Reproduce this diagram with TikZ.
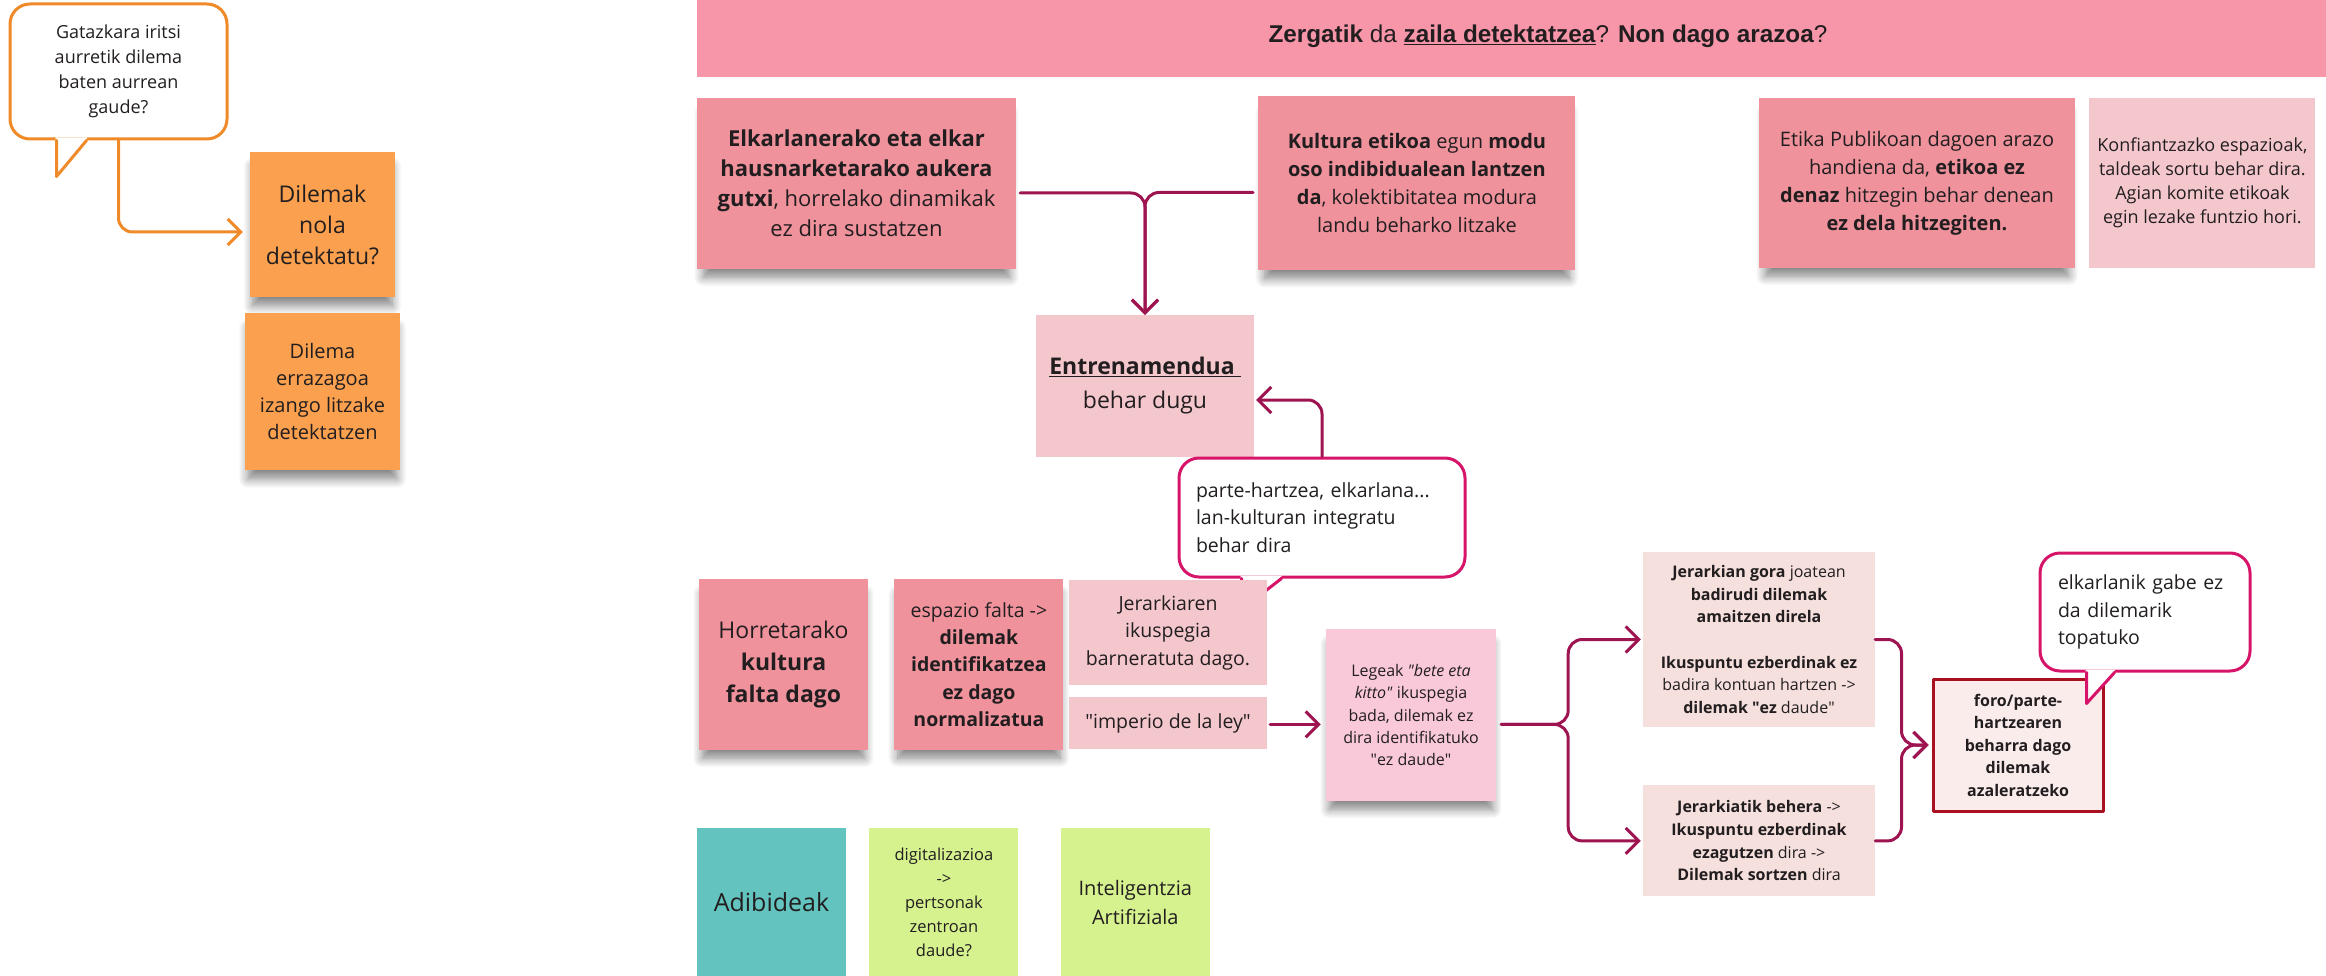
\documentclass[tikz,border=0pt]{standalone}
\usepackage{fontspec}
\setmainfont{Open Sans}
\newfontfamily\arialfont{Liberation Sans}
\usepackage{xcolor}
\usepackage{tikz}
\usetikzlibrary{arrows.meta, positioning, calc, shadows.blur}

\definecolor{ink}{RGB}{34,30,32}
\definecolor{titlepink}{RGB}{247,150,168}
\definecolor{notepink}{RGB}{239,146,156}
\definecolor{palepink}{RGB}{244,199,204}
\definecolor{lawpink}{RGB}{249,201,218}
\definecolor{rosewhite}{RGB}{245,224,221}
\definecolor{forofill}{RGB}{251,236,236}
\definecolor{foroline}{RGB}{170,17,32}
\definecolor{noteorange}{RGB}{250,160,78}
\definecolor{lineorange}{RGB}{240,138,40}
\definecolor{aditeal}{RGB}{99,196,191}
\definecolor{digilime}{RGB}{214,242,142}
\definecolor{wine}{RGB}{158,20,80}
\definecolor{callred}{RGB}{214,20,105}

\newcommand{\setsz}[2]{\fontsize{#1}{#2}\selectfont}
\newcommand{\q}{\textquotedbl}
% tail of a speech bubble: node, colour, left and right foot (from south west), depth
\newcommand{\calltail}[5]{%
  \fill[white] ($(#1.south west)+(#3-1,-3)$) -- ($(#1.south west)+(#3,#5)$) -- ($(#1.south west)+(#4+1,-3)$) -- cycle;
  \draw[#2, line width=3pt] ($(#1.south west)+(#3,0)$) -- ++(0,#5) -- ($(#1.south west)+(#4,0)$);}

\tikzset{
    board/.style={x=1pt, y=-1pt, >={Straight Barb[length=13pt,width=26pt]}, line cap=round, line join=round, text=ink},
    note/.style={rectangle, inner sep=0pt, align=center, fill=notepink},
    sticky/.style={blur shadow={shadow xshift=0pt, shadow yshift=-12pt, shadow scale=0.96, shadow blur radius=10pt, shadow blur steps=10, shadow opacity=50}},
    bubble/.style={draw=callred, line width=3pt, fill=white, rounded corners=20pt, inner sep=0pt, align=center},
    conn/.style={draw=wine, line width=3pt, ->},
    oconn/.style={draw=lineorange, line width=3pt, ->},
}

\begin{document}
\begin{tikzpicture}[board]
\useasboundingbox (0,0) rectangle (2326,976);

% left column
\node[bubble, draw=lineorange, minimum width=217pt, minimum height=135pt, font=\setsz{18}{25}] (ask) at (118.5,71.5) {Gatazkara iritsi\\aurretik dilema\\baten aurrean\\gaude?};
\calltail{ask}{lineorange}{48}{78}{36}
\node[note, sticky, fill=noteorange, minimum width=145pt, minimum height=145pt, font=\setsz{23}{31}] (how) at (322.5,224.5) {Dilemak\\nola\\detektatu?};
\node[note, sticky, fill=noteorange, minimum width=155pt, minimum height=157pt, font=\setsz{20}{27}, below=16pt of how] (easier) {Dilema\\errazagoa\\izango litzake\\detektatzen};

% title and top row
\node[fill=titlepink, minimum width=1629pt, minimum height=77pt, inner sep=0pt] (bar) at (1511.5,38.5) {};
\node[font=\arialfont\setsz{24.3}{29}, anchor=base] (ttl) at (1548,43) {\textbf{Zergatik} da \underline{\textbf{zaila detektatzea}}? \textbf{Non dago arazoa}?};
\node[note, sticky, minimum width=319pt, minimum height=171pt, font=\setsz{22}{30}] (few) at (856.5,183.5)
  {\textbf{Elkarlanerako eta elkar}\\\textbf{hausnarketarako aukera}\\\textbf{gutxi}, horrelako dinamikak\\ez dira sustatzen};
\node[note, sticky, minimum width=317pt, minimum height=174pt, font=\setsz{20}{28}, right=242pt of few] (solo)
  {\textbf{Kultura etikoa} egun \textbf{modu}\\\textbf{oso indibidualean lantzen}\\\textbf{da}, kolektibitatea modura\\landu beharko litzake};
\node[note, sticky, minimum width=316pt, minimum height=170pt, font=\setsz{20}{28}] (public) at (1917,183)
  {Etika Publikoan dagoen arazo\\handiena da, \textbf{etikoa ez}\\\textbf{denaz} hitzegin behar denean\\\textbf{ez dela hitzegiten.}};
\node[note, fill=palepink, minimum width=226pt, minimum height=170pt, font=\setsz{18}{24}, right=14pt of public] (trust)
  {Konfiantzazko espazioak,\\taldeak sortu behar dira.\\Agian komite etikoak\\egin lezake funtzio hori.};

% training and its bubble
\node[note, fill=palepink, minimum width=218pt, minimum height=142pt, font=\setsz{23}{34}] (train) at (1145,386) {\underline{\textbf{Entrenamendua }}\\behar dugu};
\node[bubble, minimum width=286pt, minimum height=119pt, text width=252pt, align=left, font=\setsz{19.5}{27.5}] (habit) at (1322,517.5) {parte-hartzea, elkarlana...\\lan-kulturan integratu\\behar dira};
\calltail{habit}{callred}{64}{104}{31}

% culture row
\node[note, sticky, minimum width=169pt, minimum height=171pt, font=\setsz{23}{32}] (lack) at (783.5,664.5) {Horretarako\\\textbf{kultura}\\\textbf{falta dago}};
\node[note, sticky, minimum width=169pt, minimum height=171pt, font=\setsz{19.5}{27.3}, right=26pt of lack] (space) {espazio falta ->\\\textbf{dilemak}\\\textbf{identifikatzea}\\\textbf{ez dago}\\\textbf{normalizatua}};
\node[note, fill=palepink, minimum width=198pt, minimum height=105pt, font=\setsz{19.5}{27.5}] (hier) at (1168,632.5) {Jerarkiaren\\ikuspegia\\barneratuta dago.};
\node[note, fill=palepink, minimum width=198pt, minimum height=52pt, font=\setsz{19.5}{27.5}, below=12pt of hier] (law) {\q imperio de la ley\q};
\node[note, sticky, fill=lawpink, minimum width=170pt, minimum height=172pt, font=\setsz{16}{22.2}] (kitto) at (1411,715)
  {Legeak \textit{\q bete eta}\\\textit{kitto\q} ikuspegia\\bada, dilemak ez\\dira identifikatuko\\\q ez daude\q};

% hierarchy and forum
\node[note, fill=rosewhite, minimum width=232pt, minimum height=175pt, font=\setsz{16}{22.7}] (up) at (1759,639.5)
  {\textbf{Jerarkian gora} joatean\\\textbf{badirudi dilemak}\\\textbf{amaitzen direla}\\[22.7pt]\textbf{Ikuspuntu ezberdinak ez}\\badira kontuan hartzen ->\\\textbf{dilemak \q ez} daude\q};
\node[note, fill=rosewhite, minimum width=232pt, minimum height=111pt, font=\setsz{16}{22.7}, below=58pt of up] (down)
  {\textbf{Jerarkiatik behera} ->\\\textbf{Ikuspuntu ezberdinak}\\\textbf{ezagutzen} dira ->\\\textbf{Dilemak sortzen} dira};
\node[note, fill=forofill, draw=foroline, line width=3pt, minimum width=170pt, minimum height=132pt, font=\setsz{16}{22.5}] (forum) at (2018,745)
  {\textbf{foro/parte-}\\\textbf{hartzearen}\\\textbf{beharra dago}\\\textbf{dilemak}\\\textbf{azaleratzeko}};
\node[bubble, minimum width=210pt, minimum height=118pt, text width=174pt, align=left, font=\setsz{19.5}{27.5}] (alone) at (2145,612) {elkarlanik gabe ez\\da dilemarik\\topatuko};
\calltail{alone}{callred}{48}{76}{31}

% examples
\node[note, fill=aditeal, minimum width=149pt, minimum height=148pt, font=\setsz{25}{30}] (ex) at (771.5,902) {Adibideak};
\node[note, fill=digilime, minimum width=149pt, minimum height=148pt, font=\setsz{16.5}{24}, right=23pt of ex] (digi) {digitalizazioa\\->\\pertsonak\\zentroan\\daude?};
\node[note, fill=digilime, minimum width=149pt, minimum height=148pt, font=\setsz{20}{29}, right=42pt of digi] (ai) {Inteligentzia\\Artifiziala};

% connectors
\draw[oconn, rounded corners=14pt] (ask.south) |- ($(how.west)+(-7,7.5)$);
\draw[conn, rounded corners=14pt] ($(few.east)+(4,9.5)$) -| (train.north);
\draw[conn, rounded corners=14pt] ($(solo.west)+(-5,9)$) -| (train.north);
\draw[conn, rounded corners=14pt] (habit.north) |- ($(train.east)+(2,14)$);
\draw[conn] ($(law.east)+(3,1)$) -- ($(law.east -| kitto.west)+(-5,1)$);
\coordinate (fork) at ($(kitto.east |- law.east)+(72,1)$);
\draw[conn, rounded corners=14pt] ($(kitto.east |- law.east)+(5,1)$) -- (fork) |- ($(up.west)+(-2,0)$);
\draw[conn, rounded corners=14pt] ($(kitto.east |- law.east)+(5,1)$) -- (fork) |- ($(down.west)+(-2,0)$);
\coordinate (merge) at ($(forum.west)+(-30,0)$);
\draw[conn, rounded corners=14pt] (up.east) -| (merge) -- ($(forum.west)+(-3,0)$);
\draw[conn, rounded corners=14pt] (down.east) -| (merge) -- ($(forum.west)+(-3,0)$);
\end{tikzpicture}
\end{document}
